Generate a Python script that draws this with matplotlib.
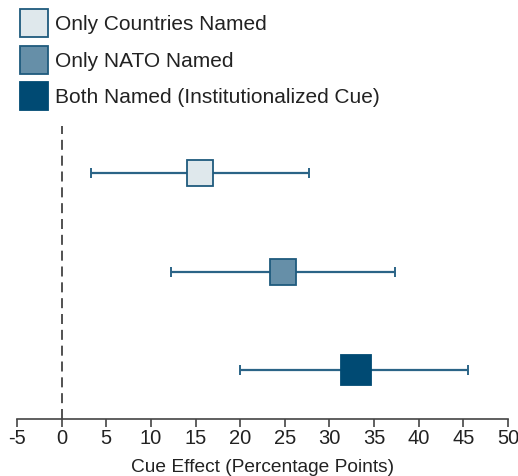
import matplotlib
matplotlib.use("Agg")
import matplotlib.pyplot as plt
from matplotlib.lines import Line2D

plt.rcParams["font.family"] = ["Liberation Sans", "DejaVu Sans"]
plt.rcParams["axes.unicode_minus"] = False

labels = ["Only Countries Named", "Only NATO Named", "Both Named (Institutionalized Cue)"]
estimates = [15.5, 24.8, 33.0]
ci_low = [3.3, 12.2, 20.0]
ci_high = [27.7, 37.3, 45.5]
fills = ["#dfe8ec", "#668fa8", "#004a73"]
edges = ["#1f5a7d", "#1f5a7d", "#004a73"]
sizes = [19, 19, 21]
ypos = [3, 2, 1]

fig = plt.figure(figsize=(5.18, 4.76), dpi=100)
ax = fig.add_axes([0.0328, 0.1197, 0.9479, 0.6155])

ax.axvline(0, color="#333333", linestyle=(0, (6, 3.5)), linewidth=1.2, zorder=1)

for i in range(len(labels)):
    ax.errorbar(estimates[i], ypos[i],
                xerr=[[estimates[i] - ci_low[i]], [ci_high[i] - estimates[i]]],
                fmt="none", ecolor="#2b6487", elinewidth=1.6, capsize=3.5,
                capthick=1.4, zorder=2)
    ax.plot(estimates[i], ypos[i], marker="s", markersize=sizes[i],
            markerfacecolor=fills[i], markeredgecolor=edges[i],
            markeredgewidth=1.3, linestyle="none", zorder=3)

ax.set_xlim(-5, 50)
ax.set_ylim(0.503, 3.48)
ax.set_xticks(range(-5, 51, 5))
ax.set_yticks([])
for s in ["top", "right", "left"]:
    ax.spines[s].set_visible(False)
ax.spines["bottom"].set_color("#444444")
ax.spines["bottom"].set_linewidth(1.2)
ax.tick_params(axis="x", direction="out", length=6, width=1.2, color="#444444",
               labelsize=14.5, labelcolor="#222222", pad=1)
ax.set_xlabel("Cue Effect (Percentage Points)", fontsize=13.8, color="#222222", labelpad=8)

handles = [Line2D([], [], marker="s", markersize=19.5, markerfacecolor=fills[i],
                  markeredgecolor=edges[i], markeredgewidth=1.3, linestyle="none")
           for i in range(len(labels))]
fig.legend(handles, labels, loc="upper left", bbox_to_anchor=(0.017, 0.996),
           frameon=False, fontsize=15, handlelength=1.1, handletextpad=0.45,
           labelspacing=0.84, borderaxespad=0.25, labelcolor="#222222")

fig.savefig("out.png", dpi=100)
